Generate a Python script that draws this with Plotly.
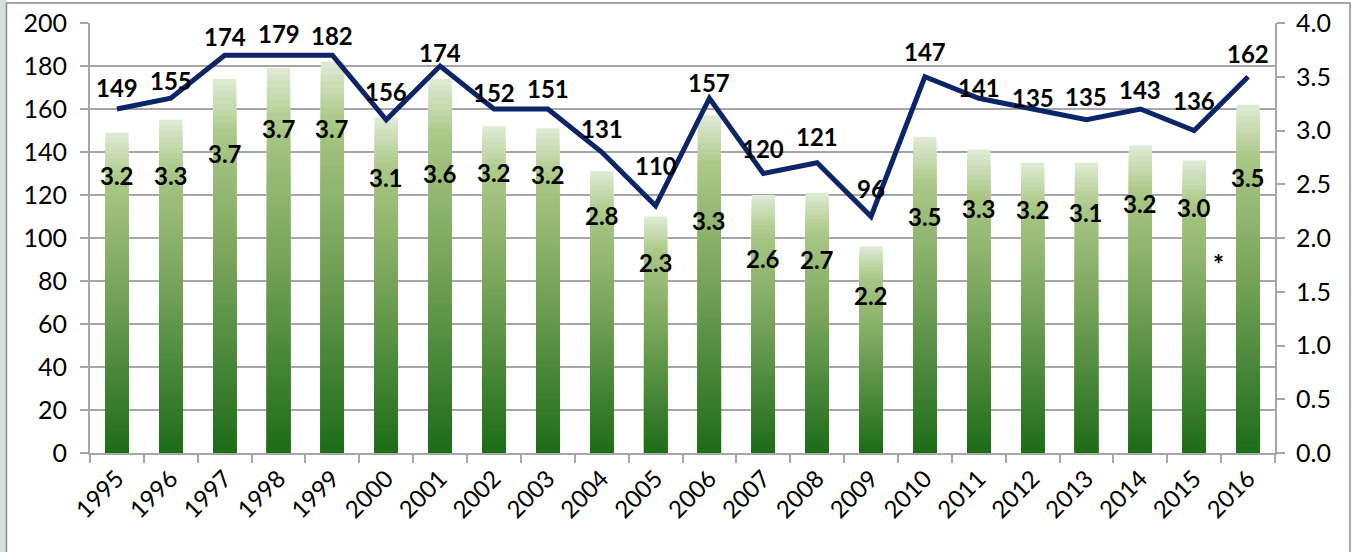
import plotly.graph_objects as go

# ---------------- data ----------------
years = [str(y) for y in range(1995, 2017)]
bar_values = [149, 155, 174, 179, 182, 156, 174, 152, 151, 131, 110,
              157, 120, 121, 96, 147, 141, 135, 135, 143, 136, 162]
line_values = [3.2, 3.3, 3.7, 3.7, 3.7, 3.1, 3.6, 3.2, 3.2, 2.8, 2.3,
               3.3, 2.6, 2.7, 2.2, 3.5, 3.3, 3.2, 3.1, 3.2, 3.0, 3.5]
left_ticks = list(range(0, 201, 20))
right_ticks = [i * 0.5 for i in range(9)]

# label offsets (pixels, relative to the line point)
bar_label_shift = [22, 18, 19, 22, 20, 28, 14, 17, 21, 24, 40,
                   16, 25, 26, 28, 25, 11, 12, 23, 20, 30, 23]
line_label_shift = [-66, -77, -98, -73, -73, -58, -107, -63, -65, -63, -57,
                    -122, -85, -97, -79, -140, -110, -100, -93, -94, -77, -101]

FONT = "Lato"
FS = 24
GRID = "#a6a6a6"
NAVY = "#0c2468"

# gradient stops (fraction of bar height -> rgb)
stops = [(0.0, (28, 108, 24)), (0.5, (118, 163, 88)),
         (0.85, (170, 200, 134)), (1.0, (224, 235, 213))]


def grad(t):
    for (t0, c0), (t1, c1) in zip(stops[:-1], stops[1:]):
        if t <= t1:
            f = (t - t0) / (t1 - t0)
            return "rgb(%d,%d,%d)" % tuple(round(a + (b - a) * f) for a, b in zip(c0, c1))
    return "rgb(%d,%d,%d)" % stops[-1][1]


fig = go.Figure()

# gradient bars: overlaid bars of decreasing height (light, tall first; dark, short last)
N = 60
for k in range(N):
    frac = 1 - k / N
    fig.add_trace(go.Bar(
        x=years, y=[v * frac for v in bar_values],
        marker=dict(color=grad(frac - 0.5 / N), line=dict(width=0)),
        showlegend=False, hoverinfo="skip", yaxis="y"))

fig.add_trace(go.Scatter(
    x=years, y=line_values, yaxis="y2", mode="lines",
    line=dict(color=NAVY, width=5), showlegend=False, hoverinfo="skip"))

annotations = []
for idx, (bv, lv, bs, ls) in enumerate(zip(bar_values, line_values,
                                           bar_label_shift, line_label_shift)):
    annotations.append(dict(x=idx, y=lv, xref="x", yref="y2", text="<b>%d</b>" % bv,
                            showarrow=False, yshift=bs, xanchor="center", yanchor="middle",
                            font=dict(family=FONT, size=FS, color="#000")))
    annotations.append(dict(x=idx, y=lv, xref="x", yref="y2", text="<b>%.1f</b>" % lv,
                            showarrow=False, yshift=ls, xanchor="center", yanchor="middle",
                            font=dict(family=FONT, size=FS, color="#000")))
annotations.append(dict(x=years.index("2015"), y=88, xref="x", yref="y", text="<b>*</b>",
                        showarrow=False, xshift=24, font=dict(family=FONT, size=26, color="#000")))

shapes = [
    dict(type="rect", xref="paper", yref="paper", x0=-0.12, x1=-0.0705, y0=-0.3, y1=1.1,
         fillcolor="#d3dfdb", line=dict(width=0), layer="below"),
    dict(type="rect", xref="paper", yref="paper", x0=-0.0705, x1=1.0633, y0=-0.3, y1=1.0465,
         fillcolor="rgba(0,0,0,0)", line=dict(color="#8c8c8c", width=1.5), layer="below"),
]

fig.update_layout(
    width=1354, height=552,
    margin=dict(l=90, r=79, t=23, b=99, autoexpand=False),
    paper_bgcolor="white", plot_bgcolor="white",
    barmode="overlay", bargap=0.57,
    font=dict(family=FONT, size=FS, color="#000"),
    xaxis=dict(type="category", range=[-0.5, len(years) - 0.5], tickangle=-45, automargin=False,
               showline=True, linecolor=GRID, linewidth=2,
               ticks="outside", tickson="boundaries", ticklen=8, tickcolor=GRID, tickwidth=2,
               showgrid=False, tickfont=dict(family=FONT, size=FS)),
    yaxis=dict(range=[0, 200], tickvals=left_ticks, showgrid=True, gridcolor=GRID, gridwidth=2,
               showline=True, linecolor=GRID, linewidth=2, ticks="outside", ticklen=8,
               automargin=False,
               tickcolor=GRID, tickwidth=2, zeroline=False, ticklabelstandoff=8,
               tickfont=dict(family=FONT, size=FS + 1)),
    yaxis2=dict(range=[0, 4], tickvals=right_ticks, tickformat=".1f", overlaying="y", side="right",
                showgrid=False, showline=True, linecolor=GRID, linewidth=2, ticks="outside",
                automargin=False,
                ticklen=8, tickcolor=GRID, tickwidth=2, zeroline=False, ticklabelstandoff=6,
                tickfont=dict(family=FONT, size=FS + 1)),
    annotations=annotations, shapes=shapes,
)

fig.write_html("out.html", config={"displayModeBar": False},
               post_script="document.body.style.margin='0';document.body.style.overflow='hidden';")
